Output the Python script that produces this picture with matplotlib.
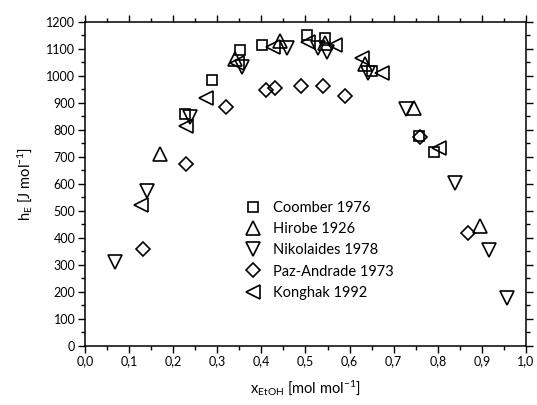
import matplotlib
matplotlib.use("Agg")
import matplotlib.pyplot as plt
from matplotlib.ticker import MultipleLocator, FuncFormatter

plt.rcParams['font.family'] = ['Lato', 'DejaVu Sans']
plt.rcParams['mathtext.fontset'] = 'custom'
plt.rcParams['mathtext.rm'] = 'Lato'
plt.rcParams['mathtext.it'] = 'Lato'

coomber_x = [0.227, 0.287, 0.351, 0.401, 0.503, 0.544, 0.650, 0.757, 0.791]
coomber_y = [858, 985, 1096, 1113, 1152, 1140, 1020, 778, 719]

hirobe_x = [0.170, 0.340, 0.442, 0.544, 0.635, 0.745, 0.896]
hirobe_y = [710, 1062, 1130, 1122, 1045, 882, 445]

nikol_x = [0.068, 0.140, 0.238, 0.357, 0.457, 0.529, 0.548, 0.642, 0.728, 0.839, 0.915, 0.958]
nikol_y = [311, 573, 848, 1034, 1104, 1102, 1090, 1010, 876, 604, 355, 176]

paz_x = [0.131, 0.229, 0.320, 0.410, 0.431, 0.489, 0.540, 0.590, 0.760, 0.869]
paz_y = [358, 672, 884, 948, 954, 962, 962, 927, 775, 419]

kong_x = [0.128, 0.229, 0.274, 0.344, 0.427, 0.506, 0.567, 0.627, 0.673, 0.803]
kong_y = [521, 814, 919, 1049, 1106, 1127, 1116, 1065, 1010, 732]

labels = ['Coomber 1976', 'Hirobe 1926', 'Nikolaides 1978', 'Paz-Andrade 1973', 'Konghak 1992']

fig = plt.figure(figsize=(5.37, 4.05), dpi=100)
ax = fig.add_axes([0.1583, 0.1464, 0.8212, 0.7993])

common = dict(linestyle='none', markerfacecolor='none', markeredgecolor='black', markeredgewidth=1.2)
ax.plot(coomber_x, coomber_y, marker='s', markersize=7.2, label=labels[0], **common)
ax.plot(hirobe_x, hirobe_y, marker='^', markersize=9.5, label=labels[1], **common)
ax.plot(nikol_x, nikol_y, marker='v', markersize=9.5, label=labels[2], **common)
ax.plot(paz_x, paz_y, marker='D', markersize=7.2, label=labels[3], **common)
ax.plot(kong_x, kong_y, marker='<', markersize=9.5, label=labels[4], **common)

ax.set_xlim(0, 1.0)
ax.set_ylim(0, 1200)
ax.xaxis.set_major_locator(MultipleLocator(0.1))
ax.xaxis.set_minor_locator(MultipleLocator(0.05))
ax.yaxis.set_major_locator(MultipleLocator(100))
ax.yaxis.set_minor_locator(MultipleLocator(50))
ax.xaxis.set_major_formatter(FuncFormatter(lambda v, p: f"{v:.1f}".replace('.', ',')))
ax.yaxis.set_major_formatter(FuncFormatter(lambda v, p: f"{v:.0f}"))

ax.tick_params(which='both', direction='out', top=True, right=True, labeltop=False, labelright=False,
               width=1.0, labelsize=9, pad=2)
ax.tick_params(which='major', length=5)
ax.tick_params(which='minor', length=3)
for s in ax.spines.values():
    s.set_linewidth(1.1)

ax.set_xlabel(r'x$_{\mathrm{EtOH}}$ [mol mol$^{\mathrm{-1}}$]', fontsize=10.5, labelpad=8)
ax.set_ylabel(r'h$_{\mathrm{E}}$ [J mol$^{\mathrm{-1}}$]', fontsize=10.5, labelpad=8)

leg = ax.legend(loc='upper left', bbox_to_anchor=(0.348, 0.466), frameon=False, fontsize=10.5,
                handlelength=1.2, handletextpad=0.8, labelspacing=0.5, borderaxespad=0)

fig.savefig('out.png', dpi=100)
